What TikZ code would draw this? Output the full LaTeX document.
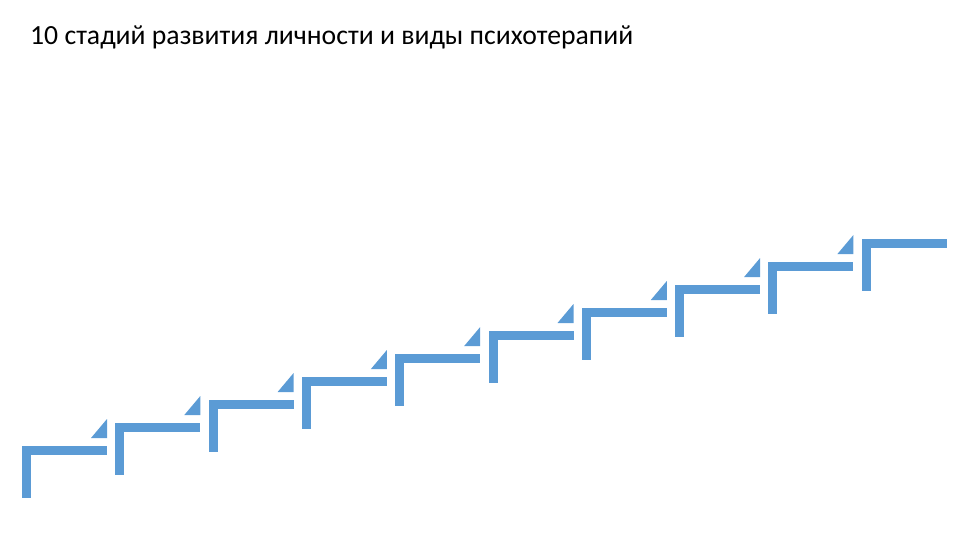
\documentclass[tikz,border=0pt]{standalone}
\usepackage{fontspec}
\setmainfont{Carlito}
\definecolor{stepblue}{HTML}{5B9BD5}
\tikzset{
  stepbar/.style={fill=stepblue},
  titletext/.style={anchor=base west, inner sep=0pt, font=\fontsize{27.7}{32}\selectfont}
}
\begin{document}
\begin{tikzpicture}[x=1pt,y=-1pt]
\useasboundingbox (0,0) rectangle (960,540);
\node[titletext] (title) at (30,45) {10 стадий развития личности и виды психотерапий};
\foreach \i in {0,...,9} {
  \pgfmathsetmacro\sx{22+93.3*\i}
  \pgfmathsetmacro\sy{446-23*\i}
  \fill[stepbar] (\sx,\sy) rectangle ++(85,9);
  \fill[stepbar] (\sx,\sy) rectangle ++(9,52);
  \ifnum\i<9
    \fill[stepbar] (\sx+69,\sy-8) -- (\sx+85,\sy-8) -- (\sx+85,\sy-27) -- cycle;
  \fi
}
\end{tikzpicture}
\end{document}
